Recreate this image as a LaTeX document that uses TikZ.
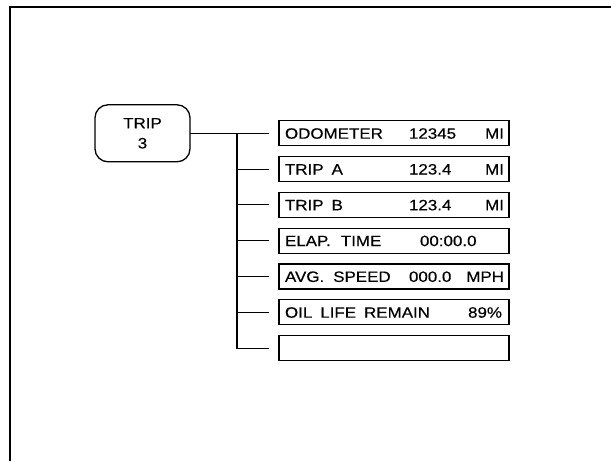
\documentclass[tikz,border=0pt]{standalone}
\usepackage{fontspec}
\newfontfamily\dispfont{Liberation Sans}[FakeStretch=1.13, FakeBold=0.4]
\usetikzlibrary{positioning,calc}

\newcommand\rowtext[3]{\hbox to 230pt{\hspace{6pt}\makebox[124pt][l]{#1}#2\hfill#3\hspace{5pt}}}
\newcommand\wgap{\hspace{8pt}}

\begin{document}
\begin{tikzpicture}[
  x=1pt, y=-1pt,
  font=\dispfont\fontsize{15}{20}\selectfont,
  frame/.style   = {draw, line width=2pt},
  menu/.style    = {draw, line width=1.3pt, rounded corners=13pt,
                    minimum width=95pt, minimum height=57pt,
                    align=center, inner sep=0pt, outer sep=0pt},
  readout/.style = {draw, line width=1.3pt, minimum width=230pt, minimum height=25pt,
                    inner sep=0pt, outer sep=0pt, text height=10.8pt, text depth=0pt},
  ln/.style      = {draw, line width=1.1pt},
]
\useasboundingbox (0,0) rectangle (611,461);

% --- the page frame, open at right and bottom ------------------------------------------------
\draw[frame] (611,6.5) -- (10.3,6.5) -- (10.3,461);

% --- the menu key and its readouts -----------------------------------------------------------
\node[menu] (trip) at (142.5,133.3) {TRIP\\3};
\node[readout, right=89pt of trip]   (odo)  {\rowtext{ODOMETER}{12345}{MI}};
\node[readout, below=10.8pt of odo]  (tripa) {\rowtext{TRIP\wgap A}{123.4}{MI}};
\node[readout, below=10.8pt of tripa] (tripb) {\rowtext{TRIP\wgap B}{123.4}{MI}};
\node[readout, below=10.8pt of tripb] (elap) {\rowtext{ELAP.\hspace{10pt}TIME}{\hspace{11pt}00:00.0}{}};
\node[readout, below=10.8pt of elap] (avg)  {\rowtext{AVG.\hspace{9pt}SPEED}{000.0}{MPH}};
\node[readout, below=10.8pt of avg]  (oil)  {\rowtext{OIL\wgap LIFE\wgap REMAIN}{}{89\%\hspace{2pt}}};
\node[readout, below=10.8pt of oil]  (blank) {};

% --- the tree ----------------------------------------------------------------------------------
\coordinate (bus) at ($(trip.east)+(47,0)$);
\draw[ln] (trip.east) -- ([xshift=-10pt]odo.west);
\draw[ln] (bus) |- ([xshift=-10pt]blank.west);
\draw[ln] (bus |- tripa) -- ([xshift=-10pt]tripa.west);
\draw[ln] (bus |- tripb) -- ([xshift=-10pt]tripb.west);
\draw[ln] (bus |- elap)  -- ([xshift=-10pt]elap.west);
\draw[ln] (bus |- avg)   -- ([xshift=-10pt]avg.west);
\draw[ln] (bus |- oil)   -- ([xshift=-10pt]oil.west);

\end{tikzpicture}
\end{document}
